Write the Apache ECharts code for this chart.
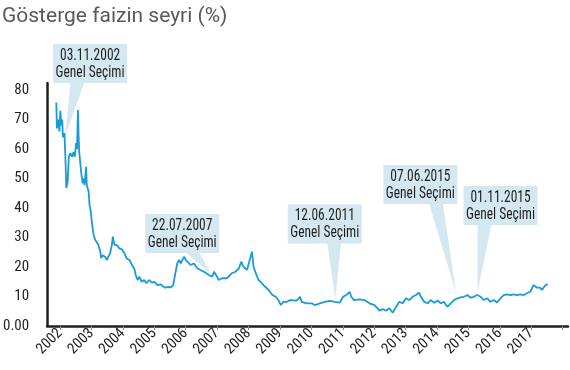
<!DOCTYPE html>
<html><head><meta charset="utf-8">
<script src="https://cdn.jsdelivr.net/npm/echarts@6/dist/echarts.min.js"></script>
<style>html,body{margin:0;padding:0;background:#fff}#c{width:570px;height:370px}</style>
</head><body><div id="c"></div>
<script>
// ---- data (decimal years, % yield) ----
const rateDates = [
2002.56,2002.58,2002.62,2002.66,2002.69,2002.72,2002.75,2002.77,2002.82,2002.85,2002.88,2002.92,2002.96,
2003.01,2003.06,2003.11,2003.15,2003.19,2003.22,2003.25,2003.27,2003.29,2003.32,2003.35,2003.40,2003.43,2003.46,2003.51,2003.53,2003.59,2003.62,2003.66,2003.69,2003.75,2003.80,2003.85,2003.90,2003.96,2003.99,
2004.04,2004.11,2004.17,2004.22,2004.27,2004.33,2004.36,2004.41,2004.49,2004.57,2004.65,2004.73,2004.80,2004.89,2004.97,
2005.04,2005.09,2005.15,2005.20,2005.28,2005.36,2005.43,2005.52,2005.60,2005.68,2005.78,2005.89,2005.97,
2006.04,2006.13,2006.20,2006.28,2006.34,2006.41,2006.47,2006.52,2006.57,2006.63,2006.68,2006.73,2006.83,2006.94,
2007.05,2007.15,2007.26,2007.42,2007.52,2007.58,2007.68,2007.73,2007.84,
2008.00,2008.15,2008.26,2008.37,2008.45,2008.52,2008.63,2008.73,2008.79,2008.84,2008.91,
2009.00,2009.10,2009.21,2009.32,2009.37,2009.44,2009.55,2009.63,2009.71,2009.79,2009.90,
2010.00,2010.05,2010.21,2010.32,2010.37,2010.53,2010.69,2010.79,2010.95,
2011.11,2011.27,2011.42,2011.58,2011.69,2011.79,2011.90,2011.95,
2012.04,2012.21,2012.37,2012.53,2012.69,2012.85,2012.96,
2013.06,2013.16,2013.27,2013.38,2013.48,2013.59,2013.69,2013.80,2013.90,
2014.01,2014.11,2014.17,2014.27,2014.38,2014.48,2014.59,2014.70,2014.80,2014.90,
2015.01,2015.12,2015.22,2015.33,2015.43,2015.54,2015.65,2015.75,2015.85,2015.96,
2016.07,2016.17,2016.28,2016.38,2016.49,2016.59,2016.70,2016.80,2016.91,
2017.02,2017.12,2017.23,2017.33,2017.44,2017.54,2017.65,2017.75,2017.86,2017.96,
2018.02,2018.12,2018.20
];
const rateValues = [
75.8,67,70,66,73,68,70,64,65.4,57,46.8,48.8,57.4,
58.6,57.4,59,57.4,62,60,73.2,64.7,59,55.7,52.3,48.4,50,47.8,54,47.8,45.5,41,38.7,35.4,30.8,29.2,29.8,27.5,25.2,23,
24,23.5,22.4,21.8,24.6,27.5,30.3,27.5,27.5,26.3,26,24.6,22.9,22.4,20.7,
19.5,17.3,15.6,16.7,15,15.6,14.5,15.6,14.7,15,13.9,14.1,13.3,
13,13.3,13,13.9,17.3,21.2,22.4,21.2,21.8,23.5,22.4,22.4,20.7,21.2,
19.6,19,18.4,17.3,16.7,18.4,16.7,15.6,16.2,
16.2,17.9,18.4,19.5,21.8,20.1,19,22.9,25.2,20.1,17.9,
15.6,14.5,13.3,12.2,12.8,10.5,9.9,8.8,7.1,8.2,8.2,
8.8,8.8,8.6,9.9,8.2,7.7,7.7,7.1,7.7,
8.2,8.5,8.2,7.9,9.9,10.5,11.6,9.9,
8.8,9,8.8,7.7,7.1,5.2,5.7,
5.2,6,4.5,6.5,8.2,7.7,9.4,8.8,9.9,
10.5,11.3,9.9,8.2,7.7,8.8,7.9,8.6,7.7,8.2,
6.5,7.7,8.8,9.4,9.7,9.9,10.5,9.6,9.9,10.5,
9.9,8.8,9.4,8.2,8.8,8,9.4,10.5,10.7,
10.5,10.7,10.5,10.7,10.5,11.1,11.6,13.9,13,13,
12.2,13.7,14.2
];
const yearLabels = [2002,2003,2004,2005,2006,2007,2008,2009,2010,2011,2012,2013,2014,2015,2016,2017];
const yearTicks = [2002,2003,2004,2005,2006,2007,2008,2009,2010,2011,2012,2013,2014,2015,2016,2017,2018];
const electionLabels = ['03.11.2002','22.07.2007','12.06.2011','07.06.2015','01.11.2015'];
const electionTipDates = [2002.84, 2007.46, 2011.44, 2015.28, 2015.97];
const electionTipValues = [64.4, 18, 9.5, 11.5, 11.5];
const titleText = 'Gösterge faizin seyri (%)';
const calloutSubtitle = 'Genel Seçimi';

// ---- layout / style ----
const TICK_OFFSET = 0.68;
const NARROW = "'Roboto Condensed','Liberation Sans Narrow','DejaVu Sans Condensed',sans-serif";
const BOX = '#d5e7f1';
const LINE = '#1a9bd7';
const INK = '#231f20';
const calloutLayout = [
  {dx: 25,   dy: -72.5,  base: -12.5},
  {dx: -28,  dy: -39.5,  base: 10},
  {dx: -10.5,dy: -74,    base: 9.5},
  {dx: -35.5,dy: -107.5, base: 15.5},
  {dx: 23,   dy: -86.5,  base: -16}
];

const series = rateDates.map((d, i) => [d, rateValues[i]]);
const callouts = electionTipDates.map((d, i) => [d, electionTipValues[i]]);

function renderCallout(params, api) {
  const p = api.coord([api.value(0), api.value(1)]);
  const L = calloutLayout[params.dataIndex];
  const cx = p[0] + L.dx, cy = p[1] + L.dy;
  const w = 74, h = 39;
  return {
    type: 'group',
    children: [
      {type: 'polygon', shape: {points: [[cx + L.base - 7, cy + h/2 - 1], [cx + L.base + 7, cy + h/2 - 1], [p[0], p[1]]]}, style: {fill: BOX}},
      {type: 'rect', shape: {x: cx - w/2, y: cy - h/2, width: w, height: h}, style: {fill: BOX}},
      {type: 'text', x: cx, y: cy + 1, scaleX: 0.84,
        style: {text: electionLabels[params.dataIndex] + '\n' + calloutSubtitle, x: 0, y: 0,
          align: 'center', verticalAlign: 'middle', fontFamily: NARROW, fontSize: 16, lineHeight: 17, fill: '#1e1e1e'}}
    ]
  };
}

const chart = echarts.init(document.getElementById('c'), null, {renderer: 'canvas'});
chart.setOption({
  animation: false,
  backgroundColor: '#ffffff',
  title: {text: titleText, left: -3, top: 1,
    textStyle: {fontFamily: 'Roboto', fontWeight: 'normal', fontSize: 21, color: '#58595b'}},
  grid: {left: 44, right: 2, top: 83, bottom: 44},
  xAxis: {
    type: 'value', min: 2002.27, max: 2018.85,
    splitLine: {show: false},
    axisLine: {lineStyle: {color: INK, width: 2.5}},
    axisTick: {show: true, length: 4, lineStyle: {color: '#888', width: 1},
      customValues: yearTicks.map(y => y + TICK_OFFSET)},
    axisLabel: {rotate: 45, fontFamily: NARROW, fontSize: 15, color: INK, margin: 5,
      customValues: yearLabels.map(y => y + TICK_OFFSET),
      formatter: v => String(Math.round(v - TICK_OFFSET))}
  },
  yAxis: {
    type: 'value', min: 0, max: 82.4, interval: 10,
    splitLine: {show: false},
    axisLine: {show: true, lineStyle: {color: INK, width: 2.5}},
    axisTick: {show: false},
    axisLabel: {fontFamily: NARROW, fontSize: 15, color: INK, margin: 18,
      formatter: v => (v === 0 ? '0.00' : (v % 10 === 0 ? String(v) : ''))}
  },
  series: [
    {type: 'custom', z: 1, clip: false, renderItem: renderCallout, data: callouts, encode: {x: 0, y: 1}, silent: true},
    {type: 'line', z: 3, data: series, showSymbol: false, lineStyle: {color: LINE, width: 1.8}, itemStyle: {color: LINE}}
  ]
});
</script></body></html>
